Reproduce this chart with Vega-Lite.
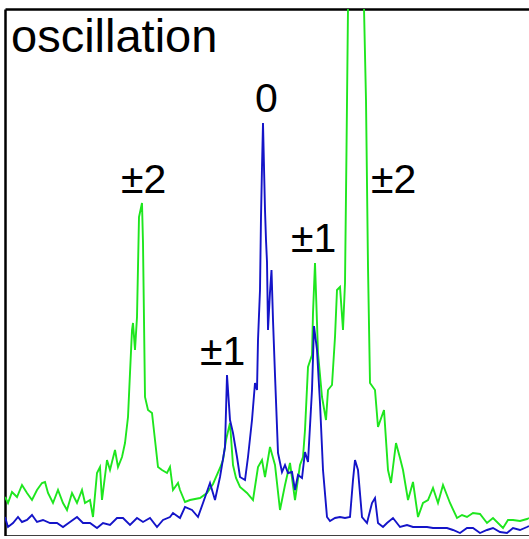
{
  "$schema": "https://vega.github.io/schema/vega-lite/v6.json",
  "width": 524,
  "height": 527,
  "autosize": {"type": "none"},
  "padding": {"left": 5, "top": 9, "right": 0, "bottom": 0},
  "background": "white",
  "config": {
    "view": {"stroke": null},
    "axis": {"domainColor": "black", "domainWidth": 2.5, "labels": false, "ticks": false, "grid": false, "title": null}
  },
  "datasets": {
    "green": [
      {"pos": 0, "intensity": 39}, {"pos": 3, "intensity": 33}, {"pos": 7, "intensity": 44}, {"pos": 12, "intensity": 39},
      {"pos": 17, "intensity": 51}, {"pos": 22, "intensity": 43}, {"pos": 27, "intensity": 36}, {"pos": 32, "intensity": 46},
      {"pos": 37, "intensity": 53}, {"pos": 40, "intensity": 54}, {"pos": 43, "intensity": 43}, {"pos": 48, "intensity": 33},
      {"pos": 53, "intensity": 46}, {"pos": 58, "intensity": 33}, {"pos": 62, "intensity": 26}, {"pos": 67, "intensity": 43},
      {"pos": 72, "intensity": 33}, {"pos": 77, "intensity": 46}, {"pos": 80, "intensity": 33}, {"pos": 85, "intensity": 36},
      {"pos": 88, "intensity": 19}, {"pos": 92, "intensity": 63}, {"pos": 95, "intensity": 69}, {"pos": 97, "intensity": 36},
      {"pos": 102, "intensity": 76}, {"pos": 105, "intensity": 66}, {"pos": 110, "intensity": 86}, {"pos": 113, "intensity": 69},
      {"pos": 117, "intensity": 79}, {"pos": 120, "intensity": 93}, {"pos": 123, "intensity": 119}, {"pos": 125, "intensity": 163},
      {"pos": 127, "intensity": 206}, {"pos": 128, "intensity": 213}, {"pos": 130, "intensity": 186}, {"pos": 132, "intensity": 219},
      {"pos": 134, "intensity": 319}, {"pos": 137, "intensity": 333}, {"pos": 138, "intensity": 293}, {"pos": 140, "intensity": 139},
      {"pos": 143, "intensity": 126}, {"pos": 147, "intensity": 123}, {"pos": 150, "intensity": 96}, {"pos": 153, "intensity": 69},
      {"pos": 157, "intensity": 66}, {"pos": 162, "intensity": 63}, {"pos": 165, "intensity": 69}, {"pos": 168, "intensity": 46},
      {"pos": 173, "intensity": 53}, {"pos": 175, "intensity": 46}, {"pos": 180, "intensity": 34}, {"pos": 185, "intensity": 36},
      {"pos": 195, "intensity": 38}, {"pos": 202, "intensity": 43}, {"pos": 208, "intensity": 52}, {"pos": 215, "intensity": 68},
      {"pos": 218, "intensity": 76}, {"pos": 221, "intensity": 96}, {"pos": 225, "intensity": 113}, {"pos": 228, "intensity": 71},
      {"pos": 231, "intensity": 58}, {"pos": 235, "intensity": 49}, {"pos": 242, "intensity": 43}, {"pos": 248, "intensity": 36},
      {"pos": 253, "intensity": 69}, {"pos": 257, "intensity": 76}, {"pos": 260, "intensity": 59}, {"pos": 265, "intensity": 89},
      {"pos": 270, "intensity": 71}, {"pos": 275, "intensity": 26}, {"pos": 280, "intensity": 51}, {"pos": 285, "intensity": 73},
      {"pos": 290, "intensity": 36}, {"pos": 295, "intensity": 71}, {"pos": 298, "intensity": 79}, {"pos": 300, "intensity": 106},
      {"pos": 303, "intensity": 169}, {"pos": 307, "intensity": 181}, {"pos": 308, "intensity": 223}, {"pos": 310, "intensity": 273},
      {"pos": 313, "intensity": 183}, {"pos": 317, "intensity": 139}, {"pos": 321, "intensity": 116}, {"pos": 323, "intensity": 146},
      {"pos": 327, "intensity": 151}, {"pos": 330, "intensity": 199}, {"pos": 332, "intensity": 246}, {"pos": 335, "intensity": 249},
      {"pos": 338, "intensity": 206}, {"pos": 340, "intensity": 253}, {"pos": 341.5, "intensity": 386}, {"pos": 343, "intensity": 528},
      {"pos": 351, "intensity": 1236}, {"pos": 359, "intensity": 528}, {"pos": 361, "intensity": 436}, {"pos": 363, "intensity": 269},
      {"pos": 365, "intensity": 153}, {"pos": 370, "intensity": 146}, {"pos": 373, "intensity": 109}, {"pos": 379, "intensity": 126},
      {"pos": 383, "intensity": 66}, {"pos": 386, "intensity": 53}, {"pos": 391, "intensity": 93}, {"pos": 395, "intensity": 78},
      {"pos": 398, "intensity": 66}, {"pos": 403, "intensity": 36}, {"pos": 408, "intensity": 54}, {"pos": 413, "intensity": 19},
      {"pos": 418, "intensity": 33}, {"pos": 423, "intensity": 36}, {"pos": 428, "intensity": 48}, {"pos": 433, "intensity": 33},
      {"pos": 438, "intensity": 51}, {"pos": 445, "intensity": 33}, {"pos": 452, "intensity": 18}, {"pos": 457, "intensity": 21},
      {"pos": 462, "intensity": 19}, {"pos": 468, "intensity": 23}, {"pos": 475, "intensity": 22}, {"pos": 482, "intensity": 13},
      {"pos": 488, "intensity": 18}, {"pos": 498, "intensity": 8}, {"pos": 503, "intensity": 16}, {"pos": 508, "intensity": 16},
      {"pos": 515, "intensity": 15}, {"pos": 522, "intensity": 17}, {"pos": 524, "intensity": 18}
    ],
    "blue": [
      {"pos": 0, "intensity": 19}, {"pos": 3, "intensity": 9}, {"pos": 8, "intensity": 13}, {"pos": 13, "intensity": 19},
      {"pos": 17, "intensity": 14}, {"pos": 22, "intensity": 16}, {"pos": 27, "intensity": 21}, {"pos": 32, "intensity": 14},
      {"pos": 38, "intensity": 16}, {"pos": 45, "intensity": 13}, {"pos": 52, "intensity": 13}, {"pos": 58, "intensity": 9},
      {"pos": 65, "intensity": 14}, {"pos": 72, "intensity": 19}, {"pos": 78, "intensity": 13}, {"pos": 85, "intensity": 13},
      {"pos": 92, "intensity": 8}, {"pos": 98, "intensity": 13}, {"pos": 105, "intensity": 11}, {"pos": 112, "intensity": 18},
      {"pos": 118, "intensity": 18}, {"pos": 125, "intensity": 11}, {"pos": 132, "intensity": 18}, {"pos": 138, "intensity": 14},
      {"pos": 145, "intensity": 18}, {"pos": 152, "intensity": 9}, {"pos": 158, "intensity": 16}, {"pos": 165, "intensity": 19},
      {"pos": 168, "intensity": 23}, {"pos": 175, "intensity": 18}, {"pos": 180, "intensity": 29}, {"pos": 187, "intensity": 26},
      {"pos": 193, "intensity": 19}, {"pos": 198, "intensity": 33}, {"pos": 205, "intensity": 53}, {"pos": 210, "intensity": 36},
      {"pos": 215, "intensity": 59}, {"pos": 220, "intensity": 89}, {"pos": 222, "intensity": 161}, {"pos": 225, "intensity": 116},
      {"pos": 228, "intensity": 103}, {"pos": 232, "intensity": 79}, {"pos": 235, "intensity": 59}, {"pos": 240, "intensity": 56},
      {"pos": 243, "intensity": 79}, {"pos": 247, "intensity": 116}, {"pos": 250, "intensity": 153}, {"pos": 252, "intensity": 146},
      {"pos": 253, "intensity": 196}, {"pos": 255, "intensity": 246}, {"pos": 256, "intensity": 319}, {"pos": 257, "intensity": 369},
      {"pos": 258, "intensity": 413}, {"pos": 259, "intensity": 369}, {"pos": 260, "intensity": 326}, {"pos": 261, "intensity": 296},
      {"pos": 262, "intensity": 274}, {"pos": 263, "intensity": 206}, {"pos": 265, "intensity": 244}, {"pos": 266.5, "intensity": 266},
      {"pos": 268, "intensity": 216}, {"pos": 270, "intensity": 161}, {"pos": 273, "intensity": 83}, {"pos": 277, "intensity": 64},
      {"pos": 280, "intensity": 71}, {"pos": 283, "intensity": 63}, {"pos": 287, "intensity": 64}, {"pos": 290, "intensity": 46},
      {"pos": 293, "intensity": 61}, {"pos": 297, "intensity": 58}, {"pos": 300, "intensity": 84}, {"pos": 303, "intensity": 74},
      {"pos": 307, "intensity": 146}, {"pos": 309, "intensity": 210}, {"pos": 312, "intensity": 186}, {"pos": 315, "intensity": 133},
      {"pos": 318, "intensity": 66}, {"pos": 322, "intensity": 19}, {"pos": 325, "intensity": 15}, {"pos": 330, "intensity": 18},
      {"pos": 335, "intensity": 19}, {"pos": 340, "intensity": 18}, {"pos": 345, "intensity": 19}, {"pos": 348, "intensity": 56},
      {"pos": 350, "intensity": 76}, {"pos": 353, "intensity": 66}, {"pos": 357, "intensity": 19}, {"pos": 362, "intensity": 13},
      {"pos": 367, "intensity": 33}, {"pos": 370, "intensity": 38}, {"pos": 373, "intensity": 13}, {"pos": 378, "intensity": 9},
      {"pos": 382, "intensity": 13}, {"pos": 388, "intensity": 18}, {"pos": 395, "intensity": 9}, {"pos": 402, "intensity": 11},
      {"pos": 408, "intensity": 9}, {"pos": 415, "intensity": 9}, {"pos": 422, "intensity": 9}, {"pos": 428, "intensity": 8},
      {"pos": 435, "intensity": 8}, {"pos": 442, "intensity": 8}, {"pos": 448, "intensity": 6}, {"pos": 455, "intensity": 3},
      {"pos": 462, "intensity": 8}, {"pos": 468, "intensity": 8}, {"pos": 475, "intensity": 3}, {"pos": 482, "intensity": 6},
      {"pos": 488, "intensity": 8}, {"pos": 495, "intensity": 4}, {"pos": 502, "intensity": 3}, {"pos": 508, "intensity": 8},
      {"pos": 515, "intensity": 6}, {"pos": 522, "intensity": 9}, {"pos": 524, "intensity": 10}
    ],
    "heading": [
      {"pos": 6, "intensity": 484, "label": "oscillation"}
    ],
    "orders": [
      {"pos": 116, "intensity": 343, "label": "±2"},
      {"pos": 195, "intensity": 171, "label": "±1"},
      {"pos": 250, "intensity": 424, "label": "0"},
      {"pos": 286, "intensity": 284, "label": "±1"},
      {"pos": 366, "intensity": 343, "label": "±2"}
    ]
  },
  "layer": [
    {
      "data": {"name": "green"},
      "mark": {"type": "line", "color": "#1ee61e", "strokeWidth": 1.9, "clip": true},
      "encoding": {
        "x": {"field": "pos", "type": "quantitative", "scale": {"domain": [0, 524], "nice": false, "zero": false}, "axis": {"orient": "bottom"}},
        "y": {"field": "intensity", "type": "quantitative", "scale": {"domain": [0, 527], "nice": false}, "axis": {"orient": "left"}}
      }
    },
    {
      "data": {"name": "blue"},
      "mark": {"type": "line", "color": "#1414c8", "strokeWidth": 1.9, "clip": true},
      "encoding": {
        "x": {"field": "pos", "type": "quantitative", "axis": {"orient": "top"}},
        "y": {"field": "intensity", "type": "quantitative"}
      }
    },
    {
      "data": {"name": "heading"},
      "mark": {"type": "text", "align": "left", "baseline": "alphabetic", "font": "Liberation Sans", "fontSize": 47, "color": "black"},
      "encoding": {
        "x": {"field": "pos", "type": "quantitative", "axis": null},
        "y": {"field": "intensity", "type": "quantitative"},
        "text": {"field": "label"}
      }
    },
    {
      "data": {"name": "orders"},
      "mark": {"type": "text", "align": "left", "baseline": "alphabetic", "font": "Liberation Sans", "fontSize": 41, "color": "black"},
      "encoding": {
        "x": {"field": "pos", "type": "quantitative", "axis": null},
        "y": {"field": "intensity", "type": "quantitative"},
        "text": {"field": "label"}
      }
    }
  ],
  "resolve": {"axis": {"x": "independent"}}
}
